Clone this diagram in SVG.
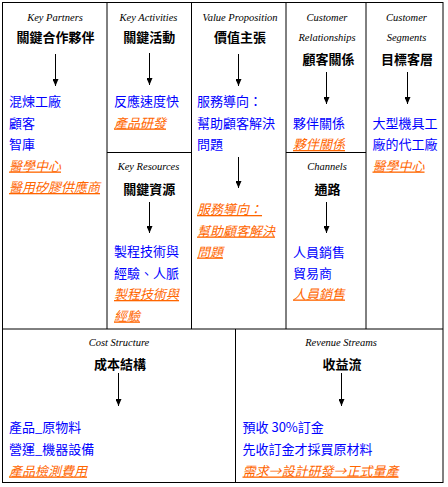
<svg xmlns="http://www.w3.org/2000/svg" width="448" height="487" viewBox="0 0 448 487">
<style>
.en{font-family:"Liberation Serif",serif;font-style:italic;font-size:10.5px;fill:#000;text-anchor:middle}
.ti{font-family:"Noto Sans CJK TC","Noto Sans CJK SC",sans-serif;font-weight:bold;font-size:13px;fill:#000;text-anchor:middle}
.b{font-family:"Noto Sans CJK TC","Noto Sans CJK SC",sans-serif;font-size:13px;fill:#0000ff}
.o{font-family:"Noto Sans CJK TC","Noto Sans CJK SC",sans-serif;font-size:13px;fill:#ff6600;font-style:italic;text-decoration:underline}
.ln{stroke:#000;stroke-width:1;fill:none}
.ar{stroke:#000;stroke-width:1;fill:none;marker-end:url(#ah)}
</style>
<defs>
<marker id="ah" viewBox="0 0 7 6" refX="7" refY="3" markerWidth="7" markerHeight="6" markerUnits="userSpaceOnUse" orient="auto">
<path d="M0,0 L7,3 L0,6 Z" fill="#000"/>
</marker>
</defs>
<rect width="448" height="487" fill="#fff"/>
<g id="grid" class="ln">
<rect x="2.5" y="2.5" width="440.5" height="480"/>
<line x1="2.5" y1="329" x2="443" y2="329"/>
<line x1="107" y1="2.5" x2="107" y2="329"/>
<line x1="191.5" y1="2.5" x2="191.5" y2="329"/>
<line x1="286" y1="2.5" x2="286" y2="329"/>
<line x1="366" y1="2.5" x2="366" y2="329"/>
<line x1="107" y1="152.5" x2="191.5" y2="152.5"/>
<line x1="286" y1="152.5" x2="366" y2="152.5"/>
<line x1="235.5" y1="329" x2="235.5" y2="482.5"/>
</g>
<g id="key-partners">
<text class="en" x="55" y="20.5">Key Partners</text>
<text class="ti" x="55.5" y="42">關鍵合作夥伴</text>
<text class="b" x="9" y="106">混煉工廠</text>
<text class="b" x="9" y="127.5">顧客</text>
<text class="b" x="9" y="149">智庫</text>
<text class="o" x="9" y="170.5">醫學中心</text>
<text class="o" x="9" y="192">醫用矽膠供應商</text>
</g>
<g id="key-activities">
<text class="en" x="148.5" y="20.5">Key Activities</text>
<text class="ti" x="149.2" y="42">關鍵活動</text>
<text class="b" x="114" y="106">反應速度快</text>
<text class="o" x="114" y="127.5">產品研發</text>
</g>
<g id="key-resources">
<text class="en" x="148.5" y="170">Key Resources</text>
<text class="ti" x="149.2" y="194">關鍵資源</text>
<text class="b" x="114" y="256">製程技術與</text>
<text class="b" x="114" y="277.5">經驗、人脈</text>
<text class="o" x="114" y="299">製程技術與</text>
<text class="o" x="114" y="320.5">經驗</text>
</g>
<g id="value-proposition">
<text class="en" x="240" y="20.5">Value Proposition</text>
<text class="ti" x="240" y="42">價值主張</text>
<text class="b" x="197" y="106">服務導向：</text>
<text class="b" x="197" y="127.5">幫助顧客解決</text>
<text class="b" x="197" y="149">問題</text>
<text class="o" x="197" y="214">服務導向：</text>
<text class="o" x="197" y="235.5">幫助顧客解決</text>
<text class="o" x="197" y="256.5">問題</text>
</g>
<g id="customer-relationships">
<text class="en" x="327" y="20.5">Customer</text>
<text class="en" x="327" y="40.5">Relationships</text>
<text class="ti" x="328.5" y="64">顧客關係</text>
<text class="b" x="293" y="127.5">夥伴關係</text>
<text class="o" x="293" y="149">夥伴關係</text>
</g>
<g id="channels">
<text class="en" x="327" y="170">Channels</text>
<text class="ti" x="327.5" y="194">通路</text>
<text class="b" x="293" y="257">人員銷售</text>
<text class="b" x="293" y="278">貿易商</text>
<text class="o" x="293" y="298.5">人員銷售</text>
</g>
<g id="customer-segments">
<text class="en" x="406.5" y="20.5">Customer</text>
<text class="en" x="406.5" y="40.5">Segments</text>
<text class="ti" x="407" y="64">目標客層</text>
<text class="b" x="372.5" y="127.5">大型機具工</text>
<text class="b" x="372.5" y="149">廠的代工廠</text>
<text class="o" x="372.5" y="170.5">醫學中心</text>
</g>
<g id="cost-structure">
<text class="en" x="119" y="345.5">Cost Structure</text>
<text class="ti" x="120" y="369">成本結構</text>
<text class="b" x="9" y="432">產品_原物料</text>
<text class="b" x="9" y="454">營運_機器設備</text>
<text class="o" x="9" y="475.5">產品檢測費用</text>
</g>
<g id="revenue-streams">
<text class="en" x="341" y="345.5">Revenue Streams</text>
<text class="ti" x="342" y="369">收益流</text>
<text class="b" x="242.5" y="432">預收 30%訂金</text>
<text class="b" x="242.5" y="454">先收訂金才採買原材料</text>
<text class="o" x="242.5" y="475.5">需求→設計研發→正式量產</text>
</g>
<g id="connectors">
<line class="ar" x1="55.5" y1="54" x2="55.5" y2="86"/>
<line class="ar" x1="149.5" y1="53" x2="149.5" y2="85"/>
<line class="ar" x1="238.5" y1="54" x2="238.5" y2="86"/>
<line class="ar" x1="238.5" y1="157" x2="238.5" y2="188"/>
<line class="ar" x1="326.5" y1="72" x2="326.5" y2="104"/>
<line class="ar" x1="407.5" y1="72" x2="407.5" y2="104"/>
<line class="ar" x1="149.5" y1="202" x2="149.5" y2="233"/>
<line class="ar" x1="326.5" y1="202" x2="326.5" y2="233"/>
<line class="ar" x1="118.5" y1="373" x2="118.5" y2="406"/>
<line class="ar" x1="341.5" y1="373" x2="341.5" y2="406"/>
</g>
</svg>
